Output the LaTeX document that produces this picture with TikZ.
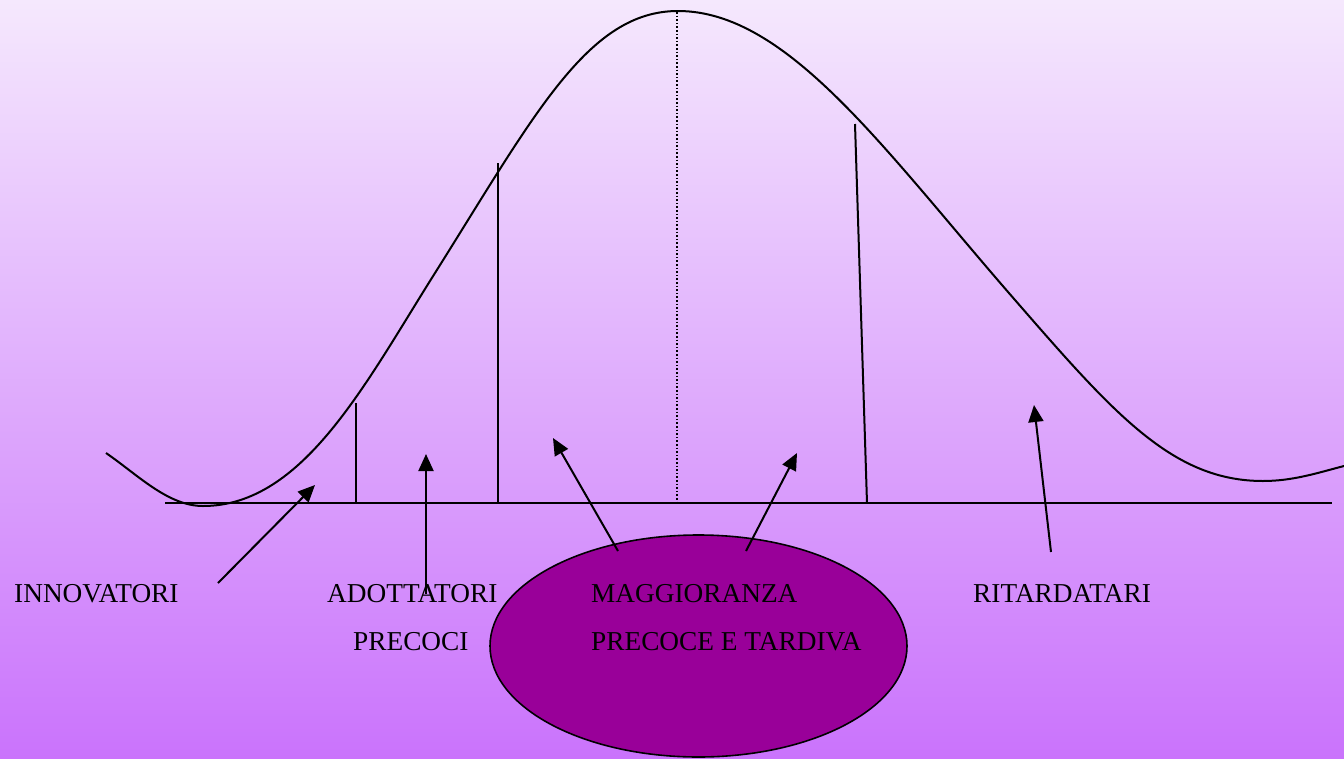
\documentclass[tikz,border=0pt]{standalone}
\usepackage{fontspec}
\setmainfont{Liberation Serif}
\usetikzlibrary{arrows.meta,shapes.geometric}
\definecolor{bgtop}{RGB}{245,232,253}
\definecolor{bgbot}{RGB}{202,115,252}
\definecolor{ellfill}{RGB}{153,0,153}
\tikzset{
  ln/.style={line width=2pt, black},
  arr/.style={line width=2pt, black, -{Triangle[length=17pt,width=15pt]}},
  lbl/.style={anchor=base west, inner sep=0pt, font=\fontsize{27.3}{31}\selectfont},
}
\begin{document}
\begin{tikzpicture}[x=1pt,y=-1pt]
\useasboundingbox (0,0) rectangle (1344,758);
\shade[top color=bgtop, bottom color=bgbot] (0,0) rectangle (1344,758);
% axis
\coordinate (axL) at (165,503);
\coordinate (axR) at (1332,503);
\draw[ln] (axL) -- (axR);
% bell curve
\coordinate (p0) at (106,453);
\coordinate (p1) at (203,506);
\coordinate (p2) at (435,273);
\coordinate (p3) at (678,11);
\coordinate (p4) at (1015,300);
\coordinate (p5) at (1263,481);
\coordinate (p6) at (1344,466);
\draw[ln] (p0) .. controls (138,475) and (168,506) .. (p1)
  .. controls (303,506) and (365,384) .. (p2)
  .. controls (535,114) and (588,11) .. (p3)
  .. controls (788,11) and (885,151) .. (p4)
  .. controls (1115,415) and (1173,481) .. (p5)
  .. controls (1293,481) and (1317,473) .. (p6);
% separators
\coordinate (v1t) at (356,403); \coordinate (v1b) at (356,503);
\coordinate (v2t) at (498,163); \coordinate (v2b) at (498,503);
\coordinate (v3t) at (855,124); \coordinate (v3b) at (867,503);
\coordinate (mdt) at (677,12);  \coordinate (mdb) at (677,503);
\draw[ln] (v1t) -- (v1b);
\draw[ln] (v2t) -- (v2b);
\draw[ln] (v3t) -- (v3b);
\draw[line width=1.4pt, dash pattern=on 1.6pt off 2pt] (mdt) -- (mdb);
% ellipse
\node[ellipse, draw, line width=1.6pt, fill=ellfill, minimum width=417pt, minimum height=222pt, inner sep=0pt] (ell) at (698.5,646) {};
% labels
\node[lbl] (inn) at (14,602) {INNOVATORI};
\node[lbl] (ado) at (327,602) {ADOTTATORI};
\node[lbl] (pre) at (353,650) {PRECOCI};
\node[lbl] (mag) at (591,602) {MAGGIORANZA};
\node[lbl] (pet) at (591,650) {PRECOCE E TARDIVA};
\node[lbl] (rit) at (973,602) {RITARDATARI};
% arrows
\coordinate (a1s) at (218,583); \coordinate (a1e) at (315,485);
\coordinate (a2s) at (426,594); \coordinate (a2e) at (426,454);
\coordinate (a3s) at (618,551); \coordinate (a3e) at (553,438);
\coordinate (a4s) at (746,551); \coordinate (a4e) at (797,453);
\coordinate (a5s) at (1051,552); \coordinate (a5e) at (1034,405);
\draw[arr] (a1s) -- (a1e);
\draw[arr] (a2s) -- (a2e);
\draw[arr] (a3s) -- (a3e);
\draw[arr] (a4s) -- (a4e);
\draw[arr] (a5s) -- (a5e);
\end{tikzpicture}
\end{document}
